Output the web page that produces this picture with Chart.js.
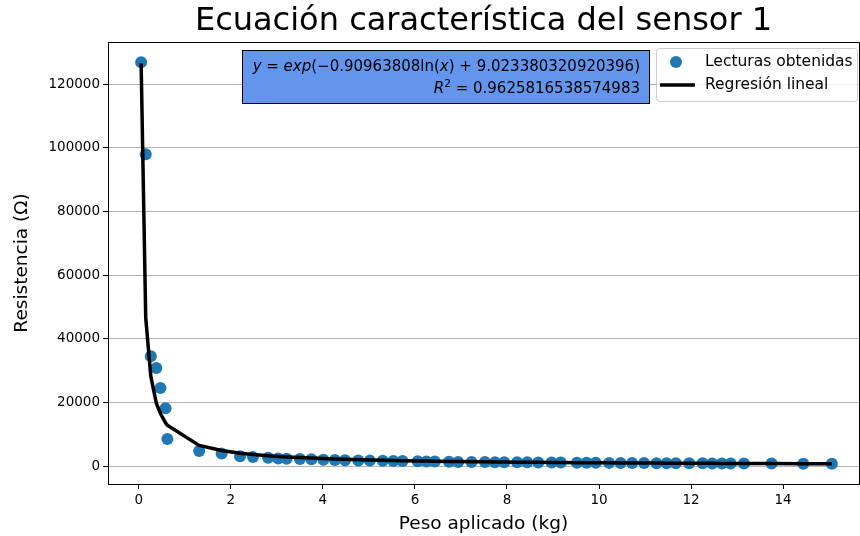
<!DOCTYPE html>
<html>
<head>
<meta charset="utf-8">
<script src="https://cdn.jsdelivr.net/npm/chart.js@4.4.0/dist/chart.umd.min.js"></script>
<style>
html,body{margin:0;padding:0;background:#fff;}
canvas{display:block;}
</style>
</head>
<body>
<canvas id="c" width="860" height="536"></canvas>
<script>
// ---- data ----
const pesoKg = [0.05, 0.15, 0.26, 0.38, 0.47, 0.58, 0.62, 1.31, 1.80, 2.20, 2.48, 2.81, 3.03, 3.21, 3.50, 3.75,
  4.01, 4.26, 4.48, 4.77, 5.02, 5.30, 5.53, 5.73, 6.06, 6.25, 6.43, 6.74, 6.94, 7.23, 7.52, 7.74, 7.94,
  8.22, 8.44, 8.68, 8.97, 9.17, 9.52, 9.73, 9.93, 10.22, 10.47, 10.72, 10.98, 11.25, 11.47, 11.67, 11.96,
  12.25, 12.46, 12.67, 12.86, 13.15, 13.75, 14.44, 15.06];
const lecturas = [126900, 98000, 34500, 30800, 24500, 18200, 8500, 4700, 3900, 3100, 2800, 2600, 2400, 2300, 2200, 2100,
  2000, 1900, 1850, 1750, 1700, 1650, 1600, 1550, 1500, 1450, 1400, 1350, 1300, 1280, 1250, 1220, 1200,
  1170, 1150, 1120, 1100, 1080, 1050, 1030, 1010, 990, 970, 950, 930, 910, 895, 880, 860,
  845, 830, 820, 810, 795, 765, 730, 700];
const regresion = [126600, 46600, 28240, 19760, 16480, 13610, 12810, 6486, 4857, 4047, 3629, 3240, 3025, 2870, 2653, 2492,
  2344, 2219, 2119, 2002, 1911, 1819, 1750, 1695, 1610, 1566, 1526, 1462, 1424, 1372, 1323, 1289, 1260,
  1221, 1192, 1162, 1127, 1105, 1068, 1047, 1028, 1001, 979, 958, 938, 918, 901, 887, 868,
  849, 836, 823, 812, 796, 764, 731, 703];
const xTicks = [0, 2, 4, 6, 8, 10, 12, 14];
const yTicks = [0, 20000, 40000, 60000, 80000, 100000, 120000];
const titulo = 'Ecuación característica del sensor 1';
const xTitulo = 'Peso aplicado (kg)';
const yTitulo = 'Resistencia (Ω)';
const leyenda = ['Lecturas obtenidas', 'Regresión lineal'];
const ecuacion1 = [['y', true], [' = ', false], ['exp', true], ['(−0.90963808ln(', false], ['x', true], [') + 9.023380320920396)', false]];
const ecuacion2 = [['R', true], ['2', 'sup'], [' = 0.9625816538574983', false]];

const FONT = 'DejaVu Sans';

const scatterData = pesoKg.map((x, i) => ({x: x, y: lecturas[i]}));
const lineData = pesoKg.map((x, i) => ({x: x, y: regresion[i]}));

function drawRich(ctx, parts, rightX, baseY, size) {
  const fontOf = (p) => p[1] === 'sup' ? `${size * 0.7}px "${FONT}"` : (p[1] ? `italic ${size}px "${FONT}"` : `${size}px "${FONT}"`);
  let w = 0;
  parts.forEach(p => { ctx.font = fontOf(p); w += ctx.measureText(p[0]).width; });
  let x = rightX - w;
  parts.forEach(p => {
    ctx.font = fontOf(p);
    const dy = p[1] === 'sup' ? -size * 0.4 : 0;
    ctx.fillText(p[0], x, baseY + dy);
    x += ctx.measureText(p[0]).width;
  });
}

// force the plot area to the reference position
const areaFix = {
  id: 'areaFix',
  afterLayout(chart) {
    const a = chart.chartArea;
    a.left = 108; a.right = 859; a.top = 42; a.bottom = 484;
    a.width = a.right - a.left; a.height = a.bottom - a.top;
    const xs = chart.scales.x, ys = chart.scales.y;
    xs.left = 108; xs.right = 859; xs.width = 751; xs.top = 484; xs.bottom = 536; xs.height = 52;
    ys.left = 0; ys.right = 108; ys.width = 108; ys.top = 42; ys.bottom = 484; ys.height = 442;
    xs.paddingLeft = 0; xs.paddingRight = 0;
    xs.configure(); ys.configure();
  }
};

const decor = {
  id: 'decor',
  afterDraw(chart) {
    const ctx = chart.ctx;
    const a = chart.chartArea;
    ctx.save();
    // spines top/right
    ctx.strokeStyle = '#000';
    ctx.lineWidth = 1;
    ctx.beginPath();
    ctx.moveTo(a.left, a.top + 0.5);
    ctx.lineTo(a.right + 0.5, a.top + 0.5);
    ctx.lineTo(a.right + 0.5, a.bottom);
    ctx.stroke();
    // title
    ctx.fillStyle = '#000';
    ctx.textAlign = 'center';
    ctx.textBaseline = 'middle';
    ctx.font = `32px "${FONT}"`;
    ctx.fillText(titulo, (a.left + a.right) / 2, 22);
    // axis titles
    ctx.font = `18.5px "${FONT}"`;
    ctx.fillText(xTitulo, (a.left + a.right) / 2, 524);
    ctx.save();
    ctx.translate(22, (a.top + a.bottom) / 2);
    ctx.rotate(-Math.PI / 2);
    ctx.fillText(yTitulo, 0, 0);
    ctx.restore();
    // annotation box
    ctx.fillStyle = '#6495ED';
    ctx.fillRect(242.5, 50.5, 407, 53);
    ctx.strokeStyle = '#000';
    ctx.lineWidth = 1;
    ctx.strokeRect(242.5, 50.5, 407, 53);
    ctx.fillStyle = '#000';
    ctx.textAlign = 'left';
    ctx.textBaseline = 'alphabetic';
    drawRich(ctx, ecuacion1, 640, 71, 15);
    drawRich(ctx, ecuacion2, 640, 93, 15);
    // legend
    const lx = 656.5, ly = 48.5, lw = 201, lh = 53, r = 3;
    ctx.beginPath();
    ctx.moveTo(lx + r, ly);
    ctx.arcTo(lx + lw, ly, lx + lw, ly + lh, r);
    ctx.arcTo(lx + lw, ly + lh, lx, ly + lh, r);
    ctx.arcTo(lx, ly + lh, lx, ly, r);
    ctx.arcTo(lx, ly, lx + lw, ly, r);
    ctx.closePath();
    ctx.fillStyle = 'rgba(255,255,255,0.8)';
    ctx.fill();
    ctx.strokeStyle = '#cccccc';
    ctx.stroke();
    ctx.fillStyle = '#1f77b4';
    ctx.beginPath();
    ctx.arc(676, 62, 6, 0, Math.PI * 2);
    ctx.fill();
    ctx.strokeStyle = '#000';
    ctx.lineWidth = 3.5;
    ctx.beginPath();
    ctx.moveTo(660, 85);
    ctx.lineTo(695, 85);
    ctx.stroke();
    ctx.fillStyle = '#000';
    ctx.textBaseline = 'middle';
    ctx.font = `15.5px "${FONT}"`;
    ctx.fillText(leyenda[0], 705, 62);
    ctx.fillText(leyenda[1], 705, 85);
    ctx.restore();
  }
};

new Chart(document.getElementById('c'), {
  type: 'scatter',
  data: {
    datasets: [
      {
        label: leyenda[0],
        data: scatterData,
        backgroundColor: '#1f77b4',
        borderColor: '#1f77b4',
        pointRadius: 6,
        pointHoverRadius: 6,
        borderWidth: 0,
        order: 2
      },
      {
        type: 'line',
        label: leyenda[1],
        data: lineData,
        borderColor: '#000',
        borderWidth: 3.5,
        pointRadius: 0,
        fill: false,
        tension: 0,
        showLine: true,
        order: 1
      }
    ]
  },
  options: {
    responsive: false,
    animation: false,
    devicePixelRatio: 1,
    layout: {padding: {left: 0, top: 42, right: 1, bottom: 0}},
    plugins: {legend: {display: false}, title: {display: false}, tooltip: {enabled: false}},
    scales: {
      x: {
        type: 'linear',
        min: -0.67,
        max: 15.65,
        afterBuildTicks: (s) => { s.ticks = xTicks.map(v => ({value: v})); },
        afterFit: (s) => { s.height = 52; s.paddingLeft = 0; s.paddingRight = 0; },
        ticks: {color: '#000', font: {family: FONT, size: 13.5}, padding: 3, maxRotation: 0, autoSkip: false,
          callback: (v) => String(v)},
        grid: {drawOnChartArea: false, drawTicks: true, tickLength: 5, tickColor: '#000', tickWidth: 1},
        border: {display: true, color: '#000', width: 1}
      },
      y: {
        type: 'linear',
        min: -5650,
        max: 133300,
        afterBuildTicks: (s) => { s.ticks = yTicks.map(v => ({value: v})); },
        afterFit: (s) => { s.width = 108; s.paddingTop = 0; s.paddingBottom = 0; },
        ticks: {color: '#000', font: {family: FONT, size: 13.5}, padding: 3, autoSkip: false,
          callback: (v) => String(v)},
        grid: {drawOnChartArea: true, color: '#b0b0b0', lineWidth: 1, drawTicks: true, tickLength: 5, tickColor: '#000', tickWidth: 1},
        border: {display: true, color: '#000', width: 1}
      }
    }
  },
  plugins: [areaFix, decor]
});
</script>
</body>
</html>
